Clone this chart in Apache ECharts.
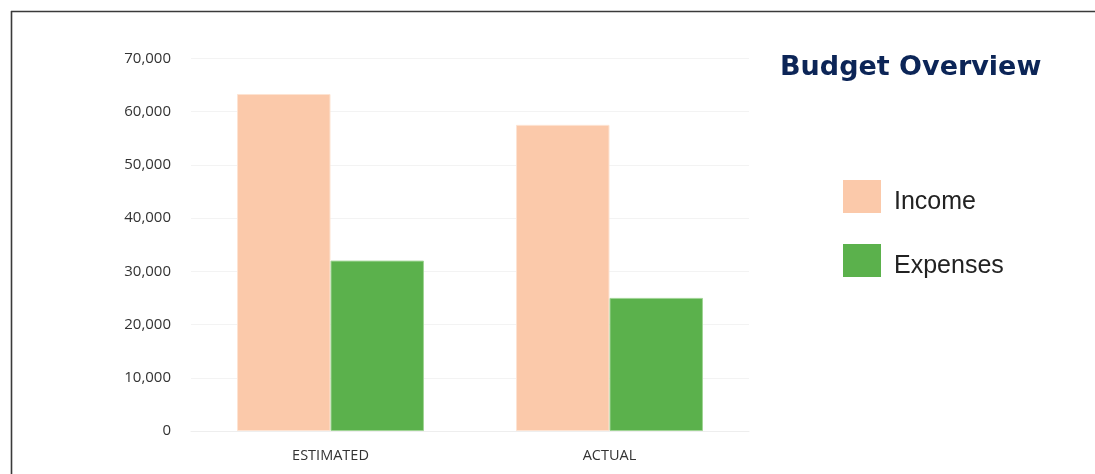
<!DOCTYPE html>
<html>
<head>
<meta charset="utf-8">
<script src="https://cdn.jsdelivr.net/npm/echarts@6/dist/echarts.min.js"></script>
<style>
html,body{margin:0;padding:0;background:#fff;}
#chart{width:1095px;height:474px;}
</style>
</head>
<body>
<div id="chart"></div>
<script>
const categories = ['ESTIMATED', 'ACTUAL'];
const seriesNames = ['Income', 'Expenses'];
const incomeValues = [63300, 57500];
const expenseValues = [32000, 25000];
const yTicks = [0, 10000, 20000, 30000, 40000, 50000, 60000, 70000];

const chart = echarts.init(document.getElementById('chart'), null, {renderer: 'canvas'});
chart.setOption({
  animation: false,
  backgroundColor: '#ffffff',
  title: {
    text: 'Budget Overview',
    left: 780, top: 54, padding: 0,
    textStyle: {fontFamily: 'DejaVu Sans', fontWeight: 'bold', fontSize: 27, color: '#0c2557'}
  },
  legend: {
    orient: 'vertical',
    left: 843, top: 180, padding: 0,
    itemWidth: 38, itemHeight: 33, itemGap: 29,
    icon: 'rect',
    itemStyle: {borderWidth: 0},
    data: seriesNames,
    formatter: '{t|{name}}',
    textStyle: {
      fontFamily: 'Liberation Sans', fontSize: 25, color: '#222', padding: [0, 0, 0, 8],
      rich: {t: {fontFamily: 'Liberation Sans', fontSize: 25, color: '#222', padding: [12, 0, 0, 0]}}
    }
  },
  grid: {left: 191, top: 58.3, width: 558, height: 372.7, containLabel: false},
  xAxis: {
    type: 'category',
    data: categories,
    axisLine: {show: true, lineStyle: {color: '#eeeeee', width: 1}},
    axisTick: {show: true, length: 0, lineStyle: {color: '#eeeeee'}},
    axisLabel: {fontFamily: 'Open Sans', fontSize: 14.5, color: '#333', margin: 17}
  },
  yAxis: {
    type: 'value',
    min: yTicks[0], max: yTicks[yTicks.length - 1], interval: 10000,
    axisLine: {show: false},
    axisTick: {show: false},
    splitLine: {lineStyle: {color: '#f3f3f3', width: 1}},
    axisLabel: {
      fontFamily: 'Open Sans', fontSize: 15, color: '#333', margin: 20,
      formatter: v => v.toLocaleString('en-US')
    }
  },
  series: [
    {
      name: seriesNames[0], type: 'bar', data: incomeValues,
      barGap: '0%', barCategoryGap: '33%',
      itemStyle: {color: '#fbc9aa', borderColor: '#fde3d2', borderWidth: 1}
    },
    {
      name: seriesNames[1], type: 'bar', data: expenseValues,
      barGap: '0%', barCategoryGap: '33%',
      itemStyle: {color: '#5bb14c', borderColor: '#9fd494', borderWidth: 1}
    }
  ],
  graphic: [
    {type: 'line', shape: {x1: 11, y1: 11.5, x2: 1095, y2: 11.5}, style: {stroke: '#3a3a3a', lineWidth: 1.6}, silent: true},
    {type: 'line', shape: {x1: 11.5, y1: 11, x2: 11.5, y2: 474}, style: {stroke: '#3a3a3a', lineWidth: 1.6}, silent: true}
  ]
});
</script>
</body>
</html>
